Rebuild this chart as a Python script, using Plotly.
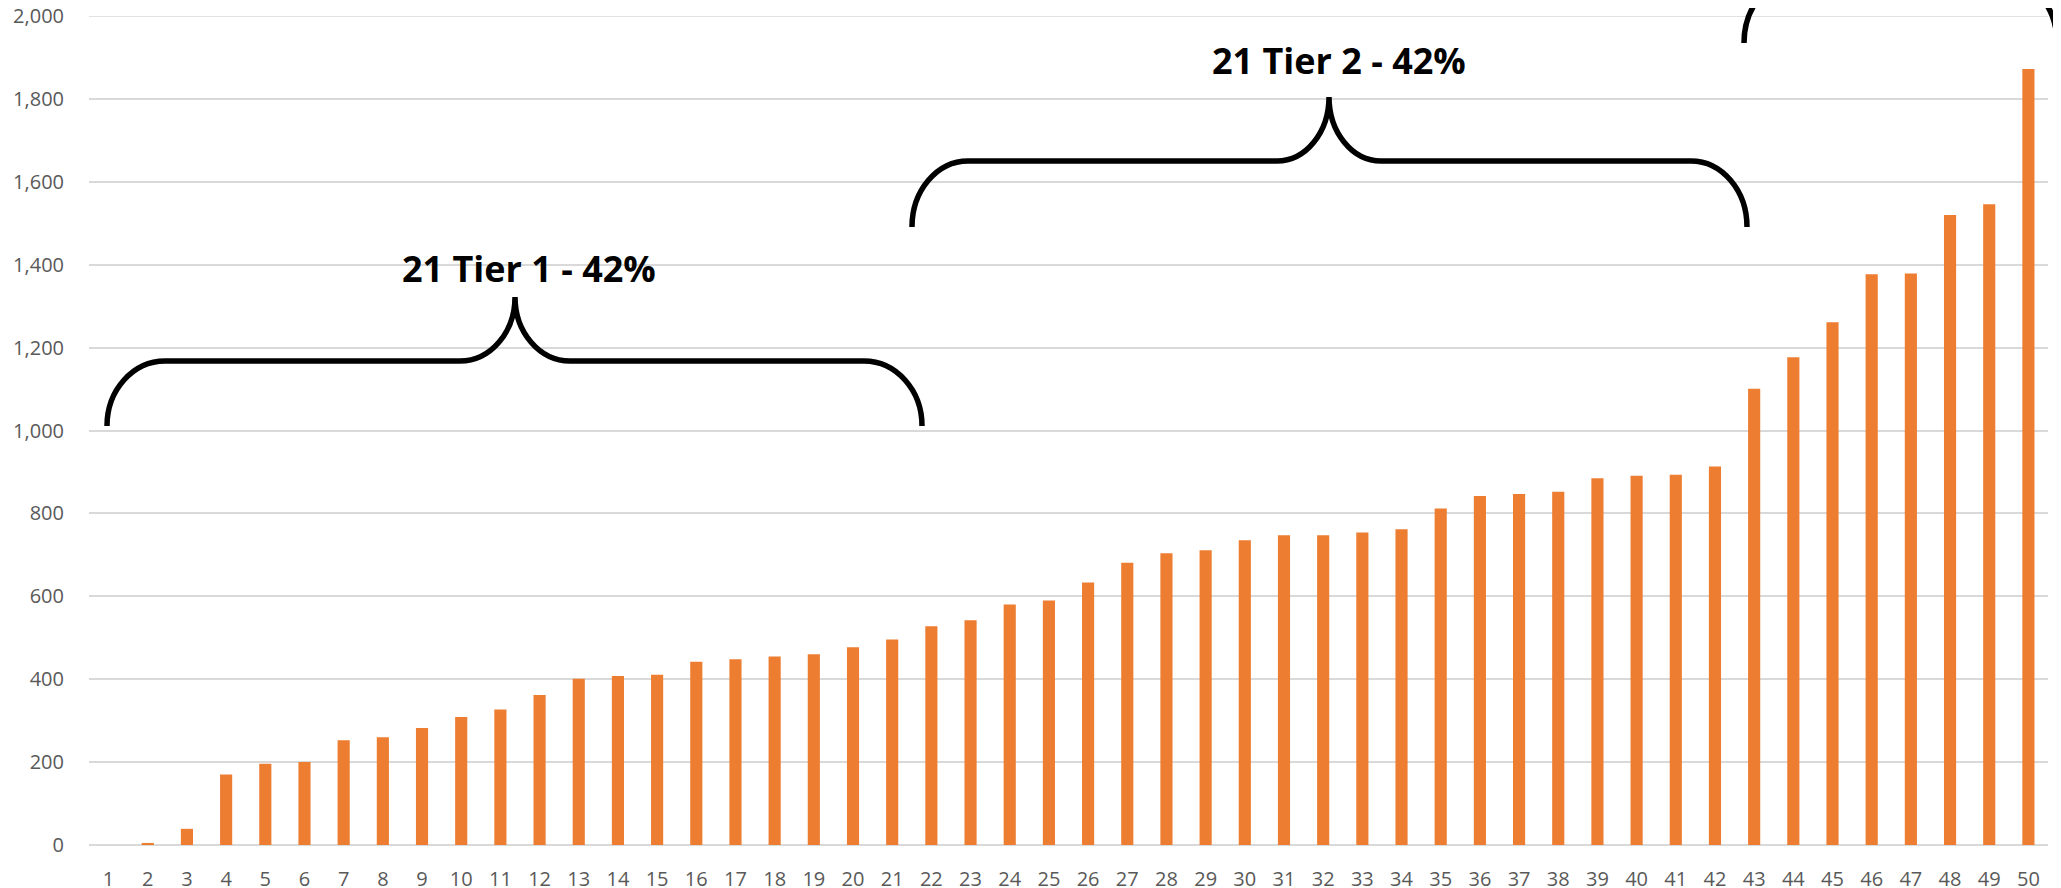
import plotly.graph_objects as go

# ---- data ----
categories = list(range(1, 51))
tick_labels = [str(c) for c in categories]
values = [0, 5, 39, 170, 196, 200, 253, 260, 282, 309,
          327, 362, 401, 408, 411, 442, 448, 455, 460, 477,
          496, 528, 542, 580, 590, 633, 681, 704, 711, 735,
          747, 747, 754, 762, 812, 842, 847, 852, 885, 891,
          893, 913, 1101, 1177, 1261, 1377, 1379, 1520, 1546, 1872]
y_ticks = list(range(0, 2001, 200))
tier_labels = ["21 Tier 1 - 42%", "21 Tier 2 - 42%"]

# ---- layout geometry ----
# The page body has an 8px margin, so the figure starts at page (8, 8).
OFF = 8
W, H = 2061, 888
PL, PR, PT, PB = 89, 2048, 16, 845          # plot area in page pixels
L, T = PL - OFF, PT - OFF
R = W - (PR - OFF)
B = H - (PB - OFF)
PW, PH = PR - PL, PB - PT


def px(x):
    return (x - PL) / PW


def py(y):
    return (PB - y) / PH


def brace_path(x0, x1, xm, y_end, y_bar, y_peak, wc, wi):
    k = 0.5523
    hc = y_end - y_bar
    hi = y_bar - y_peak

    def P(x, y):
        return f"{px(x):.5f},{py(y):.5f}"
    s = f"M {P(x0, y_end)} "
    s += f"C {P(x0, y_end - k*hc)} {P(x0 + wc - k*wc, y_bar)} {P(x0 + wc, y_bar)} "
    s += f"L {P(xm - wi, y_bar)} "
    s += f"C {P(xm - wi + k*wi, y_bar)} {P(xm, y_peak + k*hi)} {P(xm, y_peak)} "
    s += f"C {P(xm, y_peak + k*hi)} {P(xm + wi - k*wi, y_bar)} {P(xm + wi, y_bar)} "
    s += f"L {P(x1 - wc, y_bar)} "
    s += f"C {P(x1 - wc + k*wc, y_bar)} {P(x1, y_end - k*hc)} {P(x1, y_end)}"
    return s


fig = go.Figure()
fig.add_trace(go.Bar(
    x=categories, y=values,
    marker=dict(color="#ED7D31", line=dict(width=0)),
    hoverinfo="x+y",
))

shapes = [
    # top gridline (at the edge of the plot area)
    dict(type="line", xref="paper", yref="y", x0=0, x1=1, y0=y_ticks[-1], y1=y_ticks[-1],
         line=dict(color="#D9D9D9", width=1.5), layer="below"),
]
braces = [
    (107, 922, 515, 426, 361, 297, 58, 55),
    (912, 1747, 1329, 227, 161, 97, 56, 52),
    (1744, 2057, 1900, 43, -23, -90, 56, 52),
]
for b in braces:
    shapes.append(dict(type="path", path=brace_path(*b), xref="paper", yref="paper",
                       line=dict(color="black", width=5.5), layer="above"))

annotations = [
    dict(text=f"<b>{tier_labels[0]}</b>", x=px(529), y=py(268), xref="paper", yref="paper",
         showarrow=False, xanchor="center", yanchor="middle",
         font=dict(family="Open Sans", size=36, color="black")),
    dict(text=f"<b>{tier_labels[1]}</b>", x=px(1339), y=py(61), xref="paper", yref="paper",
         showarrow=False, xanchor="center", yanchor="middle",
         font=dict(family="Open Sans", size=36, color="black")),
]

fig.update_layout(
    width=W, height=H,
    margin=dict(l=L, r=R, t=T, b=B, pad=0, autoexpand=False),
    paper_bgcolor="white", plot_bgcolor="white",
    bargap=0.69,
    showlegend=False,
    shapes=shapes,
    annotations=annotations,
    font=dict(family="Open Sans", color="#595959"),
)
fig.update_xaxes(
    range=[0.5, 50.5], tickmode="array", tickvals=categories, ticktext=tick_labels,
    showgrid=False, zeroline=False, showline=False, ticks="", automargin=False,
    tickfont=dict(size=20, color="#595959"), ticklabelstandoff=20,
    ticklabeloverflow="allow",
)
fig.update_yaxes(
    range=[0, 2000], tickmode="array", tickvals=y_ticks, tickformat=",",
    showgrid=True, gridcolor="#D9D9D9", gridwidth=1.5,
    zeroline=True, zerolinecolor="#D9D9D9", zerolinewidth=1.5,
    showline=False, ticks="", automargin=False,
    tickfont=dict(size=20, color="#595959"), ticklabelstandoff=24,
    ticklabeloverflow="allow",
)

fig.write_html("out.html")
